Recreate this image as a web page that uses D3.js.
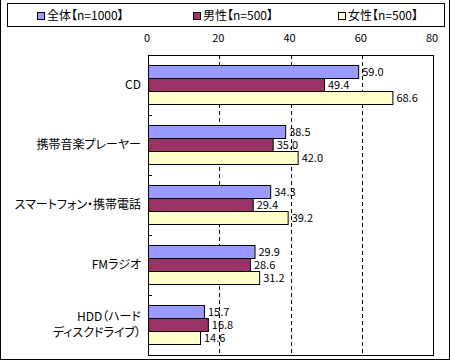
<!DOCTYPE html>
<html lang="ja">
<head>
<meta charset="UTF-8">
<title>Bar chart</title>
<style>
    body { margin: 0; background: #fff; }
    text { font-family: "Noto Sans CJK JP", sans-serif; fill: #000; font-feature-settings: "palt"; }
    .tick-label, .value-label { font-size: 11px; }
    .cat-label, .legend-label { font-size: 12px; }
</style>
</head>
<body>
<svg width="450" height="361"></svg>
<script src="https://d3js.org/d3.v7.min.js"></script>
<script>
    // Chart data
    const categories = ['CD', '携帯音楽プレーヤー', 'スマートフォン・携帯電話', 'FMラジオ', 'HDD（ハード\nディスクドライブ）'];
    const seriesNames = ['全体【n=1000】', '男性【n=500】', '女性【n=500】'];
    const allValues = [59.0, 38.5, 34.3, 29.9, 15.7];
    const maleValues = [49.4, 35.0, 29.4, 28.6, 16.8];
    const femaleValues = [68.6, 42.0, 39.2, 31.2, 14.6];
    const xTicks = [0, 20, 40, 60, 80];

    const colors = ['#9999ff', '#993366', '#ffffcc'];
    const seriesValues = [allValues, maleValues, femaleValues];

    const plot = { left: 148, right: 433, top: 55, bottom: 355 };

    const svg = d3.select('svg');

    // outer frame (top edge is cropped off in the original)
    svg.append('rect')
        .attr('x', 0.5).attr('y', -0.5)
        .attr('width', 449).attr('height', 360)
        .attr('fill', '#fff').attr('stroke', '#000');

    const xScale = d3.scaleLinear().domain([0, 80]).range([plot.left, plot.right]);
    const yScale = d3.scaleBand().domain(categories).range([plot.top, plot.bottom]);
    const barScale = d3.scaleBand().domain(seriesNames).range([10, 49]);

    // plot area
    svg.append('rect')
        .attr('x', plot.left + 0.5).attr('y', plot.top + 0.5)
        .attr('width', plot.right - plot.left).attr('height', plot.bottom - plot.top)
        .attr('fill', '#fff').attr('stroke', '#000');

    // dashed grid
    svg.append('g')
        .selectAll('line')
        .data(xTicks.slice(1, -1))
        .join('line')
        .attr('x1', d => Math.round(xScale(d)) + 0.5)
        .attr('x2', d => Math.round(xScale(d)) + 0.5)
        .attr('y1', plot.top)
        .attr('y2', plot.bottom)
        .attr('stroke', '#000')
        .attr('stroke-dasharray', '4,3');

    // top axis labels
    svg.append('g')
        .selectAll('text')
        .data(xTicks)
        .join('text')
        .attr('class', 'tick-label')
        .attr('x', d => xScale(d) - 1)
        .attr('y', 42)
        .attr('text-anchor', 'middle')
        .text(d => d);

    // category ticks (between groups)
    svg.append('g')
        .selectAll('line')
        .data(categories.slice(1))
        .join('line')
        .attr('x1', plot.left)
        .attr('x2', plot.left + 4)
        .attr('y1', d => yScale(d) + 0.5)
        .attr('y2', d => yScale(d) + 0.5)
        .attr('stroke', '#000');

    // bars
    const groups = svg.append('g')
        .selectAll('g')
        .data(categories)
        .join('g')
        .attr('transform', d => 'translate(0,' + yScale(d) + ')');

    groups.each(function (cat, ci) {
        const g = d3.select(this);
        seriesNames.forEach(function (s, si) {
            const v = seriesValues[si][ci];
            g.append('rect')
                .attr('x', plot.left + 0.5)
                .attr('y', barScale(s) + 0.5)
                .attr('width', xScale(v) - plot.left)
                .attr('height', barScale.bandwidth())
                .attr('fill', colors[si])
                .attr('stroke', '#000');
            g.append('text')
                .attr('class', 'value-label')
                .attr('x', xScale(v) + 4)
                .attr('y', barScale(s) + barScale.bandwidth() / 2 + 1)
                .attr('dy', '0.35em')
                .text(v.toFixed(1));
        });
    });

    // category labels
    svg.append('g')
        .selectAll('text')
        .data(categories)
        .join('text')
        .attr('class', 'cat-label')
        .attr('text-anchor', 'end')
        .attr('x', 141)
        .attr('y', d => yScale(d) + yScale.bandwidth() / 2)
        .each(function (d) {
            const lines = d.split('\n');
            const t = d3.select(this);
            lines.forEach(function (line, i) {
                t.append('tspan')
                    .attr('x', 141)
                    .attr('dy', i === 0 ? (0.35 - (lines.length - 1) * 0.675) + 'em' : '1.35em')
                    .text(line);
            });
        });

    // legend
    const legend = svg.append('g');
    legend.append('rect')
        .attr('x', 7.5).attr('y', 3.5)
        .attr('width', 437).attr('height', 23)
        .attr('fill', '#fff').attr('stroke', '#000');

    const legendX = [37, 193, 338];
    seriesNames.forEach(function (s, i) {
        legend.append('rect')
            .attr('x', legendX[i] + 0.5).attr('y', 12.5)
            .attr('width', 7).attr('height', 7)
            .attr('fill', colors[i]).attr('stroke', '#000');
        legend.append('text')
            .attr('class', 'legend-label')
            .attr('x', legendX[i] + 10)
            .attr('y', 16)
            .attr('dy', '0.35em')
            .text(s);
    });
</script>
</body>
</html>
